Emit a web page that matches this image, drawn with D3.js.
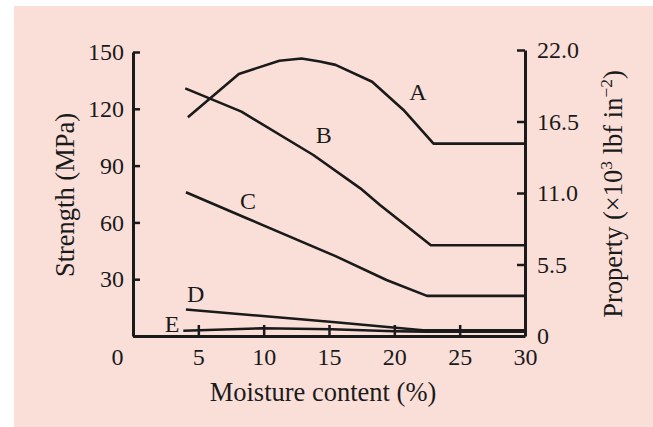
<!DOCTYPE html>
<html>
<head>
<meta charset="utf-8">
<script src="https://cdn.jsdelivr.net/npm/d3@7/dist/d3.min.js"></script>
<style>
  html, body { margin: 0; padding: 0; background: #ffffff; }
  svg { display: block; }
  text { font-family: "Liberation Serif", "Times New Roman", serif; fill: #1a1a1a; }
</style>
</head>
<body>
<svg id="chart" width="653" height="427"></svg>
<script>
// Strength of timber vs. moisture content (MPa on the left, 10^3 lbf/in^2 on the right)
const curveNames = ["A", "B", "C", "D", "E"];

const moistureA = [4.2, 8.1, 11.2, 12.9, 14.3, 15.5, 18.3, 20.7, 23.0, 30];
const strengthA = [115.5, 138.4, 145.4, 146.6, 145.0, 143.2, 134.3, 119.4, 101.6, 101.6];

const moistureB = [4.0, 8.3, 13.8, 17.4, 18.9, 22.8, 30];
const strengthB = [130.8, 118.5, 95.6, 78.0, 69.2, 47.9, 47.9];

const moistureC = [4.05, 8.7, 15.5, 19.4, 22.5, 30];
const strengthC = [75.9, 62.2, 42.2, 29.6, 21.2, 21.2];

const moistureD = [4.05, 15.5, 22.2, 30];
const strengthD = [14.0, 7.3, 3.0, 3.0];

const moistureE = [3.85, 9.9, 15.2, 20.0, 22.5, 30];
const strengthE = [2.8, 4.1, 3.6, 2.5, 2.3, 2.3];

const xTicks = [0, 5, 10, 15, 20, 25, 30];
const leftTicks = [0, 30, 60, 90, 120, 150];
const rightTicks = [0, 5.5, 11.0, 16.5, 22.0];
const rightTickLabels = ["0", "5.5", "11.0", "16.5", "22.0"];

const series = [
  [moistureA, strengthA],
  [moistureB, strengthB],
  [moistureC, strengthC],
  [moistureD, strengthD],
  [moistureE, strengthE]
].map(([xs, ys], i) => ({ name: curveNames[i], points: xs.map((m, j) => [m, ys[j]]) }));

const svg = d3.select("#chart");
const ink = "#1a1a1a";

// panel background
svg.append("rect")
  .attr("x", 14).attr("y", 6).attr("width", 639).attr("height", 421)
  .attr("fill", "#fadfd9");

const x = d3.scaleLinear().domain([0, 30]).range([133, 525]);
const yL = d3.scaleLinear().domain([0, 150]).range([336, 52]);
const yR = d3.scaleLinear().domain([0, 22]).range([336, 50]);

function styleAxis(g) {
  g.select(".domain").attr("stroke", ink).attr("stroke-width", 3);
  g.selectAll(".tick line").attr("stroke", ink).attr("stroke-width", 2.5);
  g.selectAll(".tick text").attr("font-size", 24).attr("fill", ink)
    .attr("font-family", "'Liberation Serif', 'Times New Roman', serif");
}

// left axis (MPa)
svg.append("g")
  .attr("transform", `translate(${x(0)},0)`)
  .call(d3.axisLeft(yL).tickValues(leftTicks).tickSizeInner(-7).tickSizeOuter(0).tickPadding(9)
    .tickFormat(d => d === 0 ? "" : d))
  .call(styleAxis);

// right axis (10^3 lbf in^-2)
svg.append("g")
  .attr("transform", `translate(${x(30)},0)`)
  .call(d3.axisRight(yR).tickValues(rightTicks).tickSizeInner(-8).tickSizeOuter(0).tickPadding(12)
    .tickFormat((d, i) => rightTickLabels[i]))
  .call(styleAxis);

// bottom axis (moisture %)
const gx = svg.append("g")
  .attr("transform", `translate(0,${yL(0)})`)
  .call(d3.axisBottom(x).tickValues(xTicks).tickSizeInner(-11).tickSizeOuter(0).tickPadding(12))
  .call(styleAxis);
gx.selectAll(".tick").filter(d => d === 0).select("text").attr("x", -16);
gx.selectAll(".tick").filter(d => d === 0 || d === 30).select("line").remove();

// curves
const line = d3.line().x(d => x(d[0])).y(d => yL(d[1]));
svg.append("g")
  .selectAll("path")
  .data(series)
  .join("path")
  .attr("d", d => line(d.points))
  .attr("fill", "none")
  .attr("stroke", ink)
  .attr("stroke-width", 2.6)
  .attr("stroke-linejoin", "round");

// curve letters
const letterAt = { A: [21.8, 124.5], B: [14.6, 102], C: [8.8, 67], D: [4.8, 18], E: [3.0, 2.1] };
svg.append("g")
  .selectAll("text")
  .data(series)
  .join("text")
  .attr("x", d => x(letterAt[d.name][0]))
  .attr("y", d => yL(letterAt[d.name][1]))
  .attr("text-anchor", "middle")
  .attr("font-size", 24)
  .text(d => d.name);

// axis titles
svg.append("text")
  .attr("x", 323).attr("y", 401)
  .attr("text-anchor", "middle")
  .attr("font-size", 26.5)
  .text("Moisture content (%)");

svg.append("text")
  .attr("transform", "translate(74,195) rotate(-90)")
  .attr("text-anchor", "middle")
  .attr("font-size", 26.5)
  .text("Strength (MPa)");

const rt = svg.append("text")
  .attr("transform", "translate(622,194) rotate(-90)")
  .attr("text-anchor", "middle")
  .attr("font-size", 26.5);
rt.append("tspan").text("Property (\u00d710");
rt.append("tspan").attr("font-size", 17.5).attr("dy", -10).text("3");
rt.append("tspan").attr("dy", 10).text(" lbf in");
rt.append("tspan").attr("font-size", 17.5).attr("dy", -10).text("\u22122");
rt.append("tspan").attr("dy", 10).text(")");
</script>
</body>
</html>
